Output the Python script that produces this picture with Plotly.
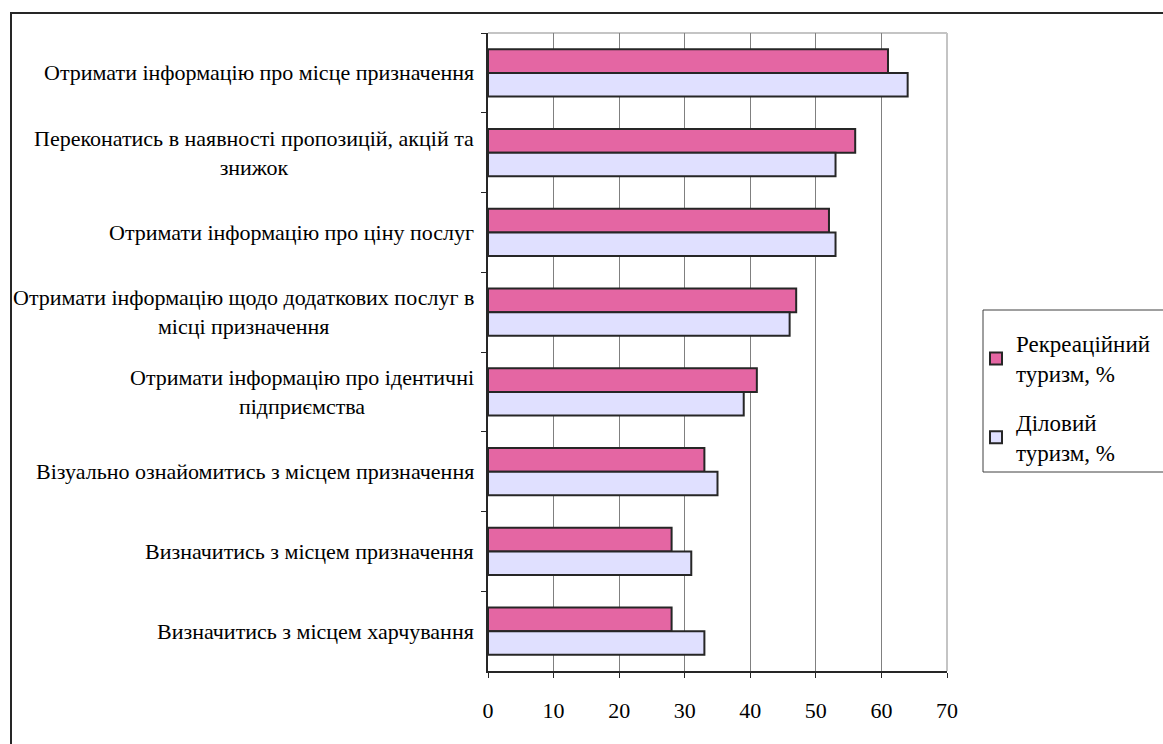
import plotly.graph_objects as go

# Survey purposes (top to bottom) and shares of respondents, %
categories = [
    "Отримати інформацію про місце призначення",
    "Переконатись в наявності пропозицій, акцій та<br>знижок",
    "Отримати інформацію про ціну послуг",
    "Отримати інформацію щодо додаткових послуг в<br>місці призначення",
    "Отримати інформацію про ідентичні<br>підприємства",
    "Візуально ознайомитись з місцем призначення",
    "Визначитись з місцем призначення",
    "Визначитись з місцем харчування",
]
recreational = [61, 56, 52, 47, 41, 33, 28, 28]
business = [64, 53, 53, 46, 39, 35, 31, 33]
series_names = ["Рекреаційний<br>туризм, %", "Діловий<br>туризм, %"]
x_ticks = [0, 10, 20, 30, 40, 50, 60, 70]

FONT = "Liberation Serif"
TXT = "black"
EDGE = "#262626"

fig = go.Figure()
fig.add_trace(go.Bar(
    y=categories, x=recreational, orientation="h", name=series_names[0],
    marker=dict(color="#E466A3", line=dict(color=EDGE, width=2)),
    legendgroup="a",
))
fig.add_trace(go.Bar(
    y=categories, x=business, orientation="h", name=series_names[1],
    marker=dict(color="#E0E0FF", line=dict(color=EDGE, width=2)),
    legendgroup="b",
))

# Category labels: right-anchored blocks with centred lines
annotations = [
    dict(x=0, y=c, xref="x", yref="y", text=c, showarrow=False,
         xanchor="right", xshift=-12, align="center",
         font=dict(family=FONT, size=22, color=TXT))
    for c in categories
]

W, H = 1163, 744
L, R, T, B = 488, 216, 33, 73
pw, ph = W - L - R, H - T - B


def px(xp):
    return (xp - L) / pw


def py(yp):
    return (H - B - yp) / ph


shapes = [
    # light frame on the top and right of the plotting area
    dict(type="line", xref="paper", yref="paper", x0=0, x1=1, y0=1, y1=1,
         line=dict(color="#c4c4c4", width=2), layer="below"),
    dict(type="line", xref="paper", yref="paper", x0=1, x1=1, y0=0, y1=1,
         line=dict(color="#c4c4c4", width=2), layer="below"),
    # legend frame
    dict(type="rect", xref="paper", yref="paper",
         x0=px(983), x1=px(1180), y0=py(310), y1=py(472),
         line=dict(color="#404040", width=1), fillcolor="rgba(0,0,0,0)"),
    # outer chart border
    dict(type="rect", xref="paper", yref="paper",
         x0=px(11), x1=px(1175), y0=py(13), y1=py(760),
         line=dict(color=EDGE, width=2), fillcolor="rgba(0,0,0,0)"),
]

fig.update_layout(
    width=W, height=H,
    margin=dict(l=L, r=R, t=T, b=B, pad=0, autoexpand=False),
    paper_bgcolor="white", plot_bgcolor="white",
    barmode="group", bargap=0.41, bargroupgap=0,
    font=dict(family=FONT, size=22, color=TXT),
    showlegend=True,
    legend=dict(
        x=px(976), y=py(322), xanchor="left", yanchor="top",
        bgcolor="rgba(0,0,0,0)", borderwidth=0,
        font=dict(family=FONT, size=23, color=TXT),
        tracegroupgap=16, itemwidth=30, traceorder="grouped",
    ),
    annotations=annotations,
    shapes=shapes,
)
fig.update_xaxes(
    range=[0, 70], tickvals=x_ticks, ticktext=[str(v) for v in x_ticks],
    showgrid=True, gridcolor="#808080", gridwidth=1,
    showline=True, linecolor="#262626", linewidth=2,
    ticks="outside", ticklen=5, tickcolor="#262626",
    ticklabelstandoff=14, zeroline=False,
    tickfont=dict(family=FONT, size=22, color=TXT),
)
fig.update_yaxes(
    autorange="reversed", showticklabels=False,
    showline=True, linecolor="#262626", linewidth=2,
    ticks="outside", ticklen=5, tickcolor="#262626", tickson="boundaries",
    showgrid=False, zeroline=False,
)

fig.write_html("out.html")
